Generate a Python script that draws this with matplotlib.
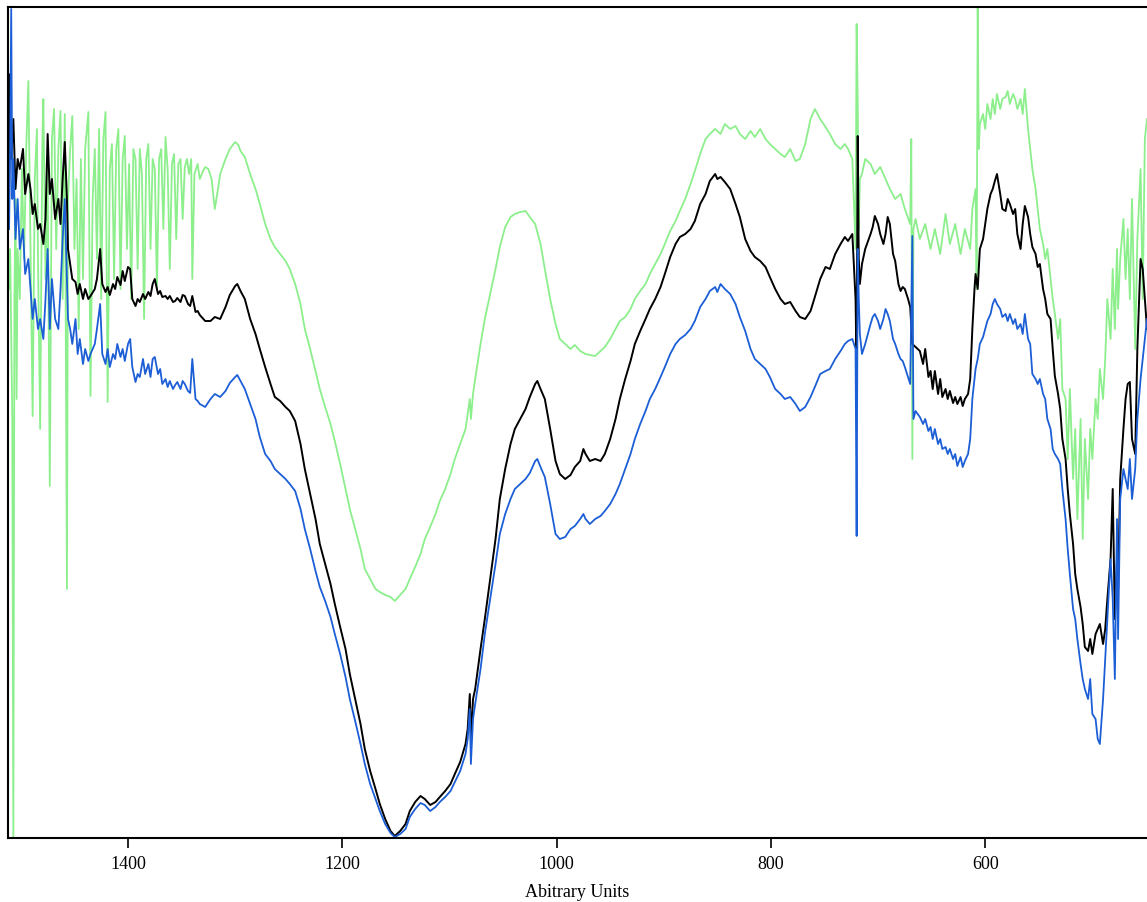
import matplotlib
matplotlib.use("Agg")
import matplotlib.pyplot as plt

# ---------------- data (wavenumber, arbitrary units) ----------------
black_wn = [1511,1510,1509,1507,1505,1503,1501,1498,1496,1493,1491,1489,1487,1484,1482,1479,1477,1475,1473,1471,
            1468,1465,1463,1461,1459,1457,1456,1454,1452,1449,1447,1445,1442,1440,1437,1435,1431,1429,1426,1424,
            1421,1419,1417,1414,1412,1410,1407,1405,1403,1400,1398,1396,1393,1391,1389,1386,1384,1381,1379,1377,
            1375,1372,1370,1368,1365,1363,1361,1358,1356,1354,1351,1349,1347,1344,1342,1340,1337,1335,1333,1328,
            1323,1319,1314,1309,1305,1300,1298,1295,1291,1286,1281,1277,1272,1267,1263,1258,1253,1249,1244,1239,
            1235,1230,1225,1221,1216,1211,1207,1202,1197,1193,1188,1183,1179,1174,1169,1165,1160,1155,1151,1146,
            1141,1137,1132,1127,1123,1118,1113,1109,1104,1099,1095,1090,1085,1083,1081,1080,1078,1076,1071,1067,
            1062,1057,1053,1048,1043,1039,1034,1029,1025,1020,1018,1015,1011,1006,1001,997,992,987,983,978,
            975,973,969,964,959,955,950,945,941,936,931,927,922,917,913,908,903,899,894,889,
            885,880,875,871,866,861,857,852,850,847,843,838,833,829,824,819,815,810,805,801,
            796,791,787,782,777,773,768,763,759,754,749,745,740,735,731,728,724,721,720,719,
            718,717,715,712,707,705,703,700,698,695,693,691,689,686,684,681,679,677,675,672,
            670,668,665,661,658,656,653,651,649,647,644,642,640,637,635,633,630,628,626,623,
            621,619,616,614,612,610,609,607,605,602,600,598,595,593,591,589,586,584,581,579,
            577,574,572,570,567,565,563,560,558,556,553,551,549,546,544,542,539,537,535,532,
            530,528,525,523,521,518,516,514,511,509,507,504,502,500,497,495,493,490,488,486,
            483,481,479,477,476,474,471,469,467,465,463,460,458,455,453,451,449]
black_val = [6.39,7.64,6.79,7.19,6.49,6.79,6.69,6.89,6.44,6.64,6.49,6.24,6.34,6.09,6.14,5.94,6.19,7.04,6.44,6.59,
             6.19,6.39,6.14,6.59,6.96,6.39,5.89,5.74,5.59,5.56,5.44,5.54,5.39,5.49,5.39,5.42,5.49,5.59,5.89,5.54,
             5.46,5.51,5.43,5.54,5.49,5.61,5.53,5.67,5.57,5.71,5.69,5.39,5.32,5.39,5.36,5.44,5.39,5.46,5.42,5.54,
             5.59,5.44,5.47,5.41,5.42,5.39,5.42,5.36,5.37,5.40,5.36,5.43,5.42,5.34,5.32,5.42,5.26,5.27,5.23,5.17,
             5.17,5.21,5.19,5.31,5.43,5.52,5.54,5.47,5.39,5.19,5.04,4.89,4.71,4.54,4.41,4.37,4.31,4.27,4.17,3.94,
             3.69,3.44,3.19,2.94,2.74,2.54,2.34,2.11,1.89,1.64,1.39,1.14,0.89,0.67,0.49,0.34,0.19,0.07,0.02,0.07,
             0.14,0.27,0.36,0.42,0.39,0.33,0.36,0.41,0.47,0.54,0.64,0.76,0.94,1.09,1.44,0.99,1.39,1.49,1.89,2.19,
             2.59,2.99,3.39,3.69,3.94,4.09,4.19,4.29,4.41,4.54,4.57,4.49,4.39,4.09,3.77,3.64,3.59,3.63,3.71,3.77,
             3.89,3.84,3.77,3.79,3.77,3.84,3.99,4.19,4.39,4.59,4.77,4.94,5.07,5.19,5.29,5.39,5.51,5.64,5.81,5.94,
             6.01,6.04,6.09,6.17,6.34,6.44,6.57,6.64,6.59,6.61,6.56,6.49,6.34,6.21,5.99,5.87,5.81,5.77,5.71,5.61,
             5.49,5.39,5.34,5.36,5.27,5.21,5.19,5.27,5.41,5.59,5.71,5.69,5.84,5.94,6.01,5.97,6.04,5.39,4.69,7.02,
             5.79,5.54,5.74,5.89,6.04,6.11,6.22,6.14,6.04,5.94,6.04,6.21,6.14,5.84,5.77,5.54,5.47,5.51,5.49,5.39,
             5.31,4.94,4.91,4.87,4.74,4.89,4.61,4.67,4.49,4.67,4.44,4.59,4.41,4.49,4.39,4.47,4.35,4.41,4.34,4.41,
             4.32,4.39,4.44,4.59,5.09,5.49,5.64,5.49,5.89,5.99,6.14,6.29,6.44,6.49,6.57,6.64,6.44,6.29,6.27,6.39,
             6.34,6.24,6.29,6.04,5.89,6.14,6.32,6.21,6.04,5.91,5.84,5.71,5.74,5.49,5.39,5.24,5.19,4.89,4.62,4.44,
             4.29,3.99,3.79,3.49,3.24,2.94,2.64,2.49,2.31,2.14,1.91,1.87,1.99,1.84,2.04,2.09,2.14,1.94,2.09,2.39,
             2.79,3.49,2.19,2.79,2.49,3.59,4.09,4.39,4.54,4.56,3.99,3.84,4.89,5.79,5.69,5.39,5.09]

blue_wn = [1511,1510,1509,1508,1507,1505,1503,1501,1498,1496,1493,1491,1489,1487,1484,1482,1479,1477,1475,1473,
           1471,1468,1465,1463,1461,1459,1457,1456,1454,1452,1449,1447,1445,1442,1440,1437,1435,1431,1429,1426,
           1424,1421,1419,1417,1414,1412,1410,1407,1405,1403,1400,1398,1396,1393,1391,1389,1386,1384,1381,1379,
           1377,1375,1372,1370,1368,1365,1363,1361,1358,1356,1354,1351,1349,1347,1344,1342,1340,1337,1335,1333,
           1328,1323,1319,1314,1309,1305,1300,1298,1295,1291,1286,1281,1277,1272,1267,1263,1258,1253,1249,1244,
           1239,1235,1230,1225,1221,1216,1211,1207,1202,1197,1193,1188,1183,1179,1174,1169,1165,1160,1155,1151,
           1146,1141,1137,1132,1127,1123,1118,1113,1109,1104,1099,1095,1090,1085,1083,1081,1080,1078,1076,1071,
           1067,1062,1057,1053,1048,1043,1039,1034,1029,1025,1020,1018,1015,1011,1006,1001,997,992,987,983,
           978,975,973,969,964,959,955,950,945,941,936,931,927,922,917,913,908,903,899,894,
           889,885,880,875,871,866,861,857,852,850,847,843,838,833,829,824,819,815,810,805,
           801,796,791,787,782,777,773,768,763,759,754,749,745,740,735,731,728,724,721,720,
           719,718,717,715,712,707,705,703,700,698,695,693,691,689,686,684,681,679,677,675,
           672,670,668,667,665,661,658,656,653,651,649,647,644,642,640,637,635,633,630,628,
           626,623,621,619,616,614,612,609,607,605,602,600,598,595,593,591,589,586,584,581,
           579,577,574,572,570,567,565,563,560,558,556,553,551,549,546,544,542,539,537,535,
           532,530,528,525,523,521,518,516,514,511,509,507,504,502,500,497,495,493,490,488,
           486,483,481,479,477,476,474,471,469,467,465,463,460,458,455,453,451,449]
blue_val = [6.09,6.89,8.29,6.39,6.79,5.99,6.39,5.89,6.09,5.64,5.79,5.49,5.19,5.39,5.09,5.19,4.99,5.39,5.89,5.09,
            5.59,5.19,5.09,5.49,5.99,6.39,5.59,5.19,5.09,4.94,5.19,4.84,4.99,4.74,4.89,4.77,4.84,4.94,5.09,5.34,
            4.84,4.74,4.89,4.71,4.84,4.79,4.94,4.81,4.89,4.77,4.94,4.99,4.71,4.56,4.64,4.61,4.79,4.64,4.74,4.61,
            4.79,4.81,4.64,4.69,4.54,4.59,4.51,4.57,4.49,4.53,4.56,4.49,4.57,4.54,4.47,4.45,4.79,4.39,4.37,4.34,
            4.31,4.39,4.44,4.41,4.47,4.55,4.61,4.63,4.57,4.49,4.34,4.19,4.01,3.84,3.77,3.69,3.64,3.59,3.54,3.47,
            3.29,3.09,2.89,2.67,2.51,2.37,2.21,2.04,1.84,1.61,1.39,1.17,0.94,0.74,0.54,0.39,0.27,0.14,0.05,0.01,
            0.04,0.09,0.21,0.29,0.35,0.33,0.27,0.31,0.36,0.41,0.47,0.56,0.67,0.84,0.99,1.29,0.74,1.19,1.34,1.69,
            2.04,2.39,2.74,3.04,3.24,3.39,3.49,3.54,3.59,3.65,3.77,3.79,3.71,3.61,3.34,3.04,2.99,3.01,3.09,3.12,
            3.19,3.24,3.19,3.14,3.19,3.22,3.27,3.34,3.44,3.54,3.69,3.84,3.99,4.14,4.27,4.39,4.49,4.61,4.71,4.84,
            4.94,4.99,5.03,5.09,5.17,5.31,5.39,5.47,5.51,5.46,5.54,5.49,5.44,5.34,5.21,5.07,4.89,4.79,4.74,4.69,
            4.61,4.49,4.44,4.39,4.41,4.34,4.27,4.31,4.41,4.51,4.64,4.67,4.69,4.79,4.87,4.94,4.97,4.99,4.89,3.02,
            5.89,5.39,5.04,4.84,4.94,5.14,5.21,5.24,5.17,5.09,5.19,5.29,5.24,5.17,4.99,4.94,4.84,4.79,4.77,4.71,
            4.61,4.54,6.02,4.19,4.27,4.21,4.14,4.19,4.07,4.11,3.99,4.09,3.94,3.99,3.89,3.91,3.84,3.89,3.79,3.84,
            3.72,3.81,3.71,3.77,3.84,3.99,4.39,4.69,4.79,4.94,5.01,5.09,5.17,5.24,5.34,5.39,5.34,5.29,5.21,5.24,
            5.17,5.24,5.14,5.19,5.09,5.14,5.04,5.24,4.99,4.94,4.64,4.59,4.54,4.59,4.44,4.39,4.19,4.09,3.89,3.84,
            3.79,3.74,3.49,3.19,2.89,2.64,2.29,2.19,1.99,1.74,1.59,1.49,1.39,1.59,1.24,1.19,0.99,0.94,1.39,1.79,
            2.19,2.79,2.39,1.59,3.19,1.99,3.39,3.69,3.59,3.49,3.79,3.39,3.69,4.19,4.59,4.79,4.99,5.19]

green_wn = [1511,1510,1508,1507,1506,1505,1504,1503,1501,1499,1497,1495,1493,1491,1489,1487,1485,1484,1482,1480,
            1479,1477,1475,1473,1471,1469,1467,1465,1463,1461,1459,1457,1456,1454,1452,1450,1448,1446,1444,1442,
            1440,1437,1435,1433,1431,1429,1427,1425,1423,1421,1419,1417,1415,1413,1411,1409,1407,1405,1403,1401,
            1399,1397,1395,1393,1391,1389,1387,1385,1383,1381,1379,1377,1375,1373,1371,1369,1367,1365,1363,1361,
            1359,1357,1355,1353,1351,1349,1347,1345,1343,1341,1340,1338,1335,1333,1330,1328,1325,1322,1319,1316,
            1314,1309,1305,1300,1297,1295,1291,1286,1281,1277,1272,1267,1263,1258,1253,1249,1244,1239,1235,1230,
            1225,1221,1216,1211,1207,1202,1197,1193,1188,1183,1179,1174,1169,1165,1160,1155,1151,1146,1141,1137,
            1132,1127,1123,1118,1113,1109,1104,1099,1095,1090,1085,1081,1080,1078,1076,1071,1067,1062,1057,1053,
            1048,1043,1039,1034,1029,1025,1020,1015,1011,1006,1001,997,992,987,983,978,973,969,964,959,
            955,950,945,941,936,931,927,922,917,913,908,903,899,894,889,885,880,875,871,866,
            861,857,852,847,843,838,833,829,824,819,815,810,805,801,796,791,787,782,777,773,
            768,763,759,754,749,745,740,735,731,728,724,721,720,719,718,717,715,712,707,703,
            698,693,689,684,679,675,670,669,668,667,665,661,656,651,647,642,637,633,628,623,
            619,614,612,609,608,607,606,605,602,600,598,595,593,591,589,586,584,581,579,577,
            574,572,570,567,565,563,560,558,556,553,551,549,546,544,542,539,537,535,532,530,
            528,525,523,521,518,516,514,511,509,507,504,502,500,497,495,493,490,488,486,483,
            481,479,477,476,474,471,469,467,465,463,460,458,455,453,451,449]
green_val = [5.49,5.89,4.19,0.00,5.39,6.39,4.39,5.89,5.39,6.69,5.79,6.89,7.57,5.89,4.22,6.59,7.09,5.79,4.09,6.89,
             7.39,5.59,6.69,3.52,6.99,7.29,5.89,6.89,7.27,5.39,7.24,2.49,6.39,6.89,7.22,5.89,6.59,5.09,6.79,5.59,
             6.89,7.26,4.42,6.39,6.89,5.79,7.09,5.39,6.99,7.26,4.36,6.69,6.94,5.59,6.89,7.09,5.49,6.79,7.02,5.89,
             6.74,5.39,6.89,6.79,5.69,6.89,6.64,5.19,6.79,6.94,5.89,6.79,6.69,5.49,6.79,6.89,6.09,7.01,6.69,5.69,
             6.74,6.84,5.99,6.74,6.79,6.19,6.71,6.79,6.64,6.79,5.59,6.64,6.74,6.59,6.67,6.71,6.69,6.59,6.29,6.49,
             6.64,6.79,6.89,6.96,6.93,6.87,6.81,6.64,6.49,6.34,6.14,5.99,5.91,5.84,5.77,5.69,5.54,5.34,5.09,4.89,
             4.67,4.49,4.31,4.14,3.97,3.74,3.49,3.29,3.09,2.89,2.69,2.59,2.49,2.46,2.43,2.41,2.37,2.43,2.49,2.59,
             2.71,2.84,2.99,3.11,3.24,3.37,3.49,3.64,3.79,3.94,4.09,4.39,4.19,4.44,4.59,4.94,5.19,5.44,5.69,5.91,
             6.11,6.21,6.24,6.26,6.27,6.21,6.14,5.94,5.69,5.39,5.14,4.99,4.94,4.89,4.93,4.87,4.84,4.83,4.82,4.87,
             4.91,4.99,5.09,5.17,5.21,5.29,5.39,5.47,5.54,5.64,5.74,5.84,5.94,6.07,6.17,6.27,6.39,6.54,6.67,6.84,
             6.99,7.04,7.09,7.04,7.14,7.09,7.12,7.04,6.99,7.07,7.01,7.09,6.99,6.94,6.89,6.84,6.81,6.89,6.77,6.79,
             6.94,7.19,7.29,7.19,7.11,7.04,6.94,6.89,6.94,6.89,6.79,5.89,8.14,7.39,6.09,6.59,6.64,6.79,6.74,6.64,
             6.71,6.59,6.49,6.39,6.44,6.29,6.14,6.99,3.79,6.09,6.19,5.99,6.14,5.89,6.09,5.84,6.24,5.94,6.14,5.84,
             6.09,5.89,6.29,6.49,5.49,8.31,6.89,7.14,7.24,7.09,7.34,7.19,7.39,7.24,7.44,7.29,7.39,7.41,7.47,7.34,
             7.44,7.39,7.29,7.39,7.24,7.49,7.09,6.89,6.69,6.49,6.29,6.09,5.94,5.79,5.89,5.59,5.39,5.24,4.99,5.19,
             4.49,4.39,3.79,4.49,3.59,4.09,3.19,4.19,2.99,3.99,3.39,4.09,3.79,4.39,4.19,4.69,4.39,4.79,5.39,4.99,
             5.69,5.09,5.89,5.29,5.79,6.19,5.59,6.09,5.39,6.39,4.89,5.99,6.69,5.39,6.99,7.19]

x_ticks = [1400, 1200, 1000, 800, 600]
x_label = "Abitrary Units"

# ---------------- figure ----------------
plt.rcParams['font.family'] = ['Liberation Serif', 'DejaVu Serif']
fig = plt.figure(figsize=(11.47, 9.03), dpi=100)
ax = fig.add_axes([8/1147, 1-839/903, 1-8/1147, (839-8)/903])

ax.plot(green_wn, green_val, color='#8CEF8C', lw=1.3)
ax.plot(black_wn, black_val, color='#000000', lw=1.4)
ax.plot(blue_wn, blue_val, color='#1C5ED6', lw=1.3)

ax.set_xlim(1512, 449)
ax.set_ylim(0, 8.31)
ax.set_xticks(x_ticks)
ax.set_xticklabels([str(t) for t in x_ticks], fontsize=13)
ax.set_yticks([])
ax.tick_params(axis='x', direction='out', length=7, width=1.2, pad=5)
ax.set_xlabel(x_label, fontsize=13, labelpad=8)
for s in ['left', 'bottom', 'top']:
    ax.spines[s].set_linewidth(1.5)
ax.spines['right'].set_visible(False)

fig.savefig('out.png', dpi=100)
